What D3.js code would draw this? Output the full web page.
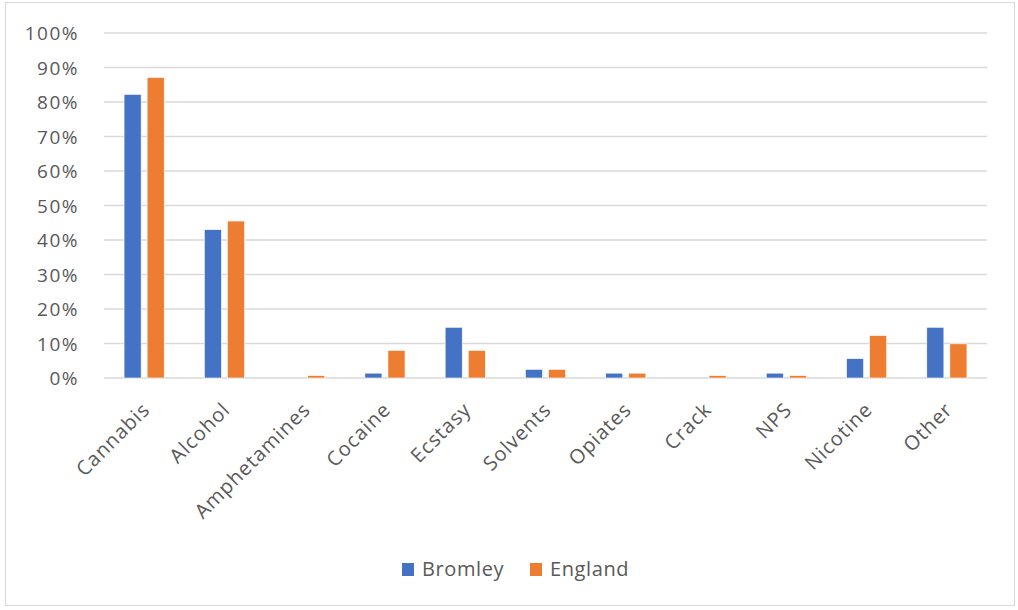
<!DOCTYPE html>
<html>
<head>
<meta charset="utf-8">
<script src="https://cdn.jsdelivr.net/npm/d3@7.9.0/dist/d3.min.js"></script>
<style>
  body { margin: 0; background: #fff; }
  svg text { font-family: "Open Sans", sans-serif; fill: #595959; }
</style>
</head>
<body>
<svg id="chart" width="1018" height="610"></svg>
<script>
const categories = ['Cannabis', 'Alcohol', 'Amphetamines', 'Cocaine', 'Ecstasy', 'Solvents', 'Opiates', 'Crack', 'NPS', 'Nicotine', 'Other'];
const seriesNames = ['Bromley', 'England'];
const bromley = [82.2, 43.0, 0, 1.4, 14.7, 2.5, 1.4, 0, 1.4, 5.6, 14.7];
const england = [87.1, 45.5, 0.7, 8.0, 8.0, 2.5, 1.4, 0.7, 0.7, 12.3, 9.9];
const yTicks = [0, 10, 20, 30, 40, 50, 60, 70, 80, 90, 100];
const colors = ['#4472C4', '#ED7D31'];

const svg = d3.select('#chart');

// outer chart border
svg.append('rect')
  .attr('x', 5.5).attr('y', 2.5)
  .attr('width', 1009).attr('height', 603)
  .attr('fill', 'none').attr('stroke', '#d9d9d9');

const plotLeft = 104, plotRight = 987, plotTop = 33, plotBottom = 378;

const x0 = d3.scaleBand().domain(categories).range([plotLeft, plotRight])
  .paddingInner(0.5).paddingOuter(0.25);
const x1 = d3.scaleBand().domain(seriesNames).range([0, x0.bandwidth()])
  .paddingInner(0.26);
const y = d3.scaleLinear().domain([0, 100]).range([plotBottom, plotTop]);

// gridlines
svg.append('g')
  .selectAll('line')
  .data(yTicks)
  .join('line')
  .attr('x1', plotLeft).attr('x2', plotRight)
  .attr('y1', d => y(d)).attr('y2', d => y(d))
  .attr('stroke', '#d9d9d9').attr('stroke-width', 1.5);

// y axis labels
const yAxis = d3.axisLeft(y).tickValues(yTicks).tickFormat(d => d + '%').tickSize(0).tickPadding(0);
const gy = svg.append('g').attr('transform', `translate(79,0)`).call(yAxis);
gy.select('.domain').remove();
gy.selectAll('text')
  .attr('font-size', 19).attr('font-family', null)
  .attr('letter-spacing', 1.5)
  .attr('dy', '0.35em');

// bars
const rows = categories.map((c, i) => ({ cat: c, vals: [bromley[i], england[i]] }));
const groups = svg.append('g').selectAll('g')
  .data(rows)
  .join('g')
  .attr('transform', d => `translate(${x0(d.cat)},0)`);
groups.selectAll('rect')
  .data(d => d.vals.map((v, j) => ({ name: seriesNames[j], v, j })))
  .join('rect')
  .attr('x', d => x1(d.name))
  .attr('width', x1.bandwidth())
  .attr('y', d => y(d.v))
  .attr('height', d => y(0) - y(d.v))
  .attr('fill', d => colors[d.j])
  .attr('stroke', '#fff').attr('stroke-width', 0.6);

// x labels, rotated
const xAxis = d3.axisBottom(x0).tickSize(0).tickPadding(0);
const gx = svg.append('g').attr('transform', `translate(0,${plotBottom})`).call(xAxis);
gx.select('.domain').remove();
gx.selectAll('text')
  .attr('font-size', 20).attr('font-family', null)
  .attr('letter-spacing', 1)
  .attr('text-anchor', 'end')
  .attr('transform', 'translate(2,28) rotate(-45)')
  .attr('dy', '0.35em');

// legend
const legend = svg.append('g');
const legendX = [402, 530];
seriesNames.forEach((name, i) => {
  legend.append('rect')
    .attr('x', legendX[i]).attr('y', 563)
    .attr('width', 12).attr('height', 13)
    .attr('fill', colors[i]);
  legend.append('text')
    .attr('x', legendX[i] + 20).attr('y', 576)
    .attr('font-size', 20)
    .attr('letter-spacing', 0.6)
    .text(name);
});
</script>
</body>
</html>
